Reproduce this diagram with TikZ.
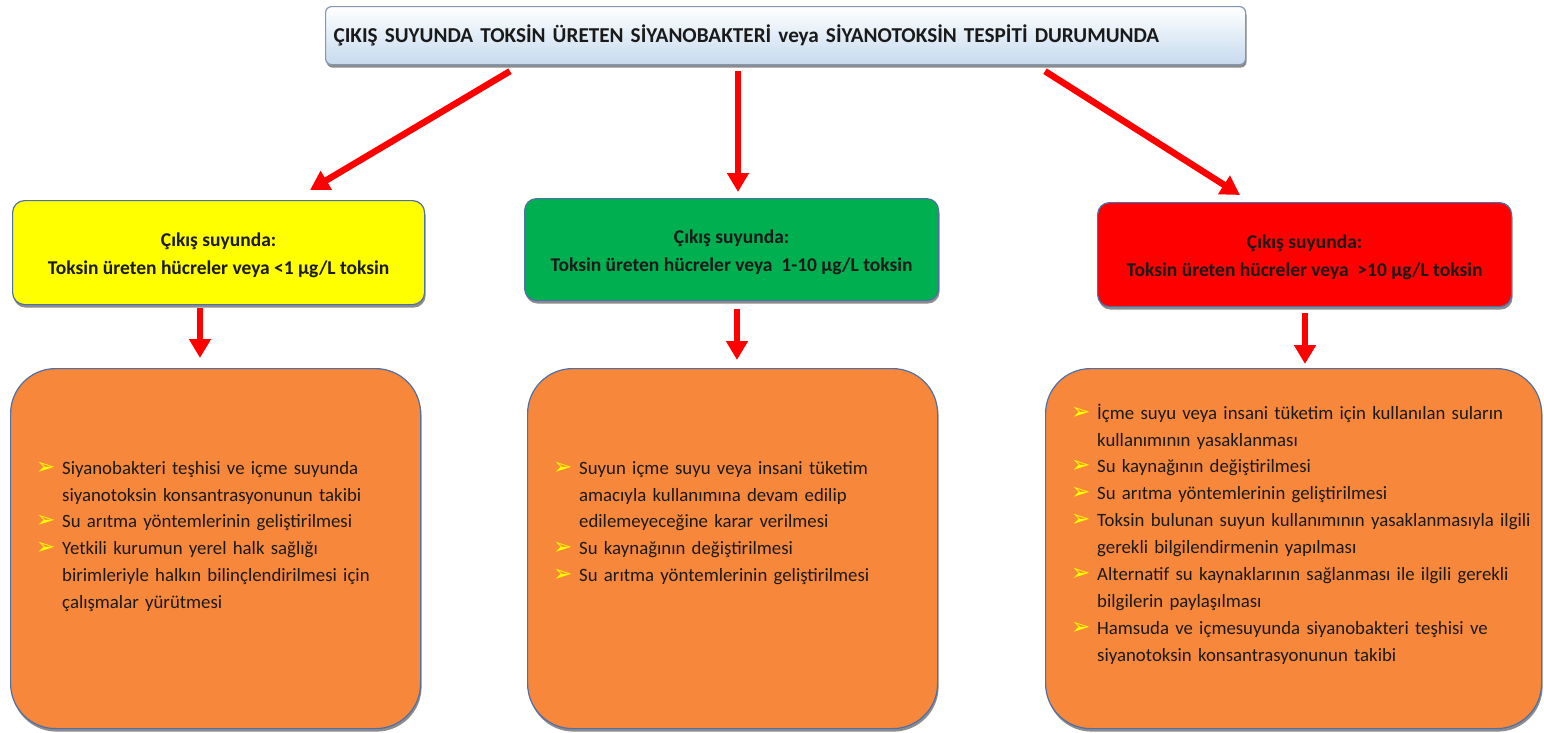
\documentclass[tikz,border=0pt]{standalone}
\usepackage{fontspec}
\setmainfont{Carlito}
\newfontfamily\symfont{DejaVu Sans}
\usetikzlibrary{arrows.meta,calc,shadows}

\definecolor{edgeblue}{HTML}{4F6FA8}
\definecolor{headedge}{HTML}{8497B0}
\definecolor{headlow}{HTML}{C6DAEE}
\definecolor{boxyellow}{HTML}{FFFF00}
\definecolor{boxgreen}{HTML}{00B050}
\definecolor{boxred}{HTML}{FF0000}
\definecolor{boxorange}{HTML}{F7883B}
\definecolor{arrowred}{HTML}{FF0000}
\definecolor{bulletyellow}{HTML}{FFFF00}
\definecolor{inktext}{HTML}{1A1A1A}

\newlength\bulw
\setlength\bulw{26pt}
\newcommand\arrowbullet{{\symfont\color{bulletyellow}\fontsize{23}{23}\selectfont ➢}}
\newcommand\bitem{\par\hangindent=\bulw\hangafter=1\noindent\makebox[\bulw][l]{\arrowbullet}}
\newcommand\lifttop{\rule{0pt}{20pt}}

\tikzset{
  boxshadow/.style={drop shadow={shadow xshift=1pt, shadow yshift=-3pt, opacity=0.45, fill=black}},
  headbox/.style={draw=headedge, line width=1.2pt, rounded corners=6pt,
    top color=white, bottom color=headlow, boxshadow,
    minimum width=920pt, minimum height=58pt, anchor=north west,
    text width=904pt, align=left, inner xsep=8pt,
    font=\bfseries\fontsize{21.2}{24}\selectfont, text=inktext},
  levelbox/.style={draw=edgeblue, line width=1.2pt, rounded corners=12pt,
    boxshadow, anchor=north west, align=center, text=inktext,
    font=\bfseries\fontsize{19.5}{28}\selectfont},
  actionbox/.style={draw=edgeblue, line width=1.2pt, rounded corners=45pt,
    fill=boxorange, boxshadow, anchor=north west, minimum height=360pt},
  listtext/.style={anchor=north west, inner sep=0pt, text width=490pt, text=inktext,
    font=\fontsize{18.8}{26.9}\selectfont\raggedright},
  flowarrow/.style={draw=arrowred, line width=6.5pt,
    -{Triangle[length=19pt,width=21pt]}}
}

\begin{document}
\begin{tikzpicture}[x=1pt,y=-1pt]
\useasboundingbox (0,0) rectangle (1544,732);

% heading
\node[headbox] (top) at (325,6)
  {ÇIKIŞ SUYUNDA TOKSİN ÜRETEN SİYANOBAKTERİ veya SİYANOTOKSİN TESPİTİ DURUMUNDA};

% concentration levels
\node[levelbox, fill=boxyellow, minimum width=412pt, minimum height=104pt] (yl) at (12,200)
  {\lifttop Çıkış suyunda:\\Toksin üreten hücreler veya <1 µg/L toksin};
\node[levelbox, fill=boxgreen, minimum width=414pt, minimum height=102pt] (gn) at (524,198)
  {\lifttop Çıkış suyunda:\\Toksin üreten hücreler veya\ \ 1-10 µg/L toksin};
\node[levelbox, fill=boxred, minimum width=414pt, minimum height=104pt] (rd) at (1097,202)
  {\lifttop Çıkış suyunda:\\Toksin üreten hücreler veya\ \ >10 µg/L toksin};

% actions
\node[actionbox, minimum width=410pt] (lo) at (10,368) {};
\node[actionbox, minimum width=410pt] (mo) at (527,368) {};
\node[actionbox, minimum width=496pt] (ro) at (1045,368) {};

\node[listtext] (lt) at ($(lo.north west)+(26,79)$) {%
  \bitem Siyanobakteri teşhisi ve içme suyunda\newline siyanotoksin konsantrasyonunun takibi
  \bitem Su arıtma yöntemlerinin geliştirilmesi
  \bitem Yetkili kurumun yerel halk sağlığı\newline birimleriyle halkın bilinçlendirilmesi için\newline çalışmalar yürütmesi\par};

\node[listtext] (mt) at ($(mo.north west)+(26,79)$) {%
  \bitem Suyun içme suyu veya insani tüketim\newline amacıyla kullanımına devam edilip\newline edilemeyeceğine karar verilmesi
  \bitem Su kaynağının değiştirilmesi
  \bitem Su arıtma yöntemlerinin geliştirilmesi\par};

\node[listtext] (rt) at ($(ro.north west)+(26,24)$) {%
  \bitem İçme suyu veya insani tüketim için kullanılan suların\newline kullanımının yasaklanması
  \bitem Su kaynağının değiştirilmesi
  \bitem Su arıtma yöntemlerinin geliştirilmesi
  \bitem Toksin bulunan suyun kullanımının yasaklanmasıyla ilgili\newline gerekli bilgilendirmenin yapılması
  \bitem Alternatif su kaynaklarının sağlanması ile ilgili gerekli\newline bilgilerin paylaşılması
  \bitem Hamsuda ve içmesuyunda siyanobakteri teşhisi ve\newline siyanotoksin konsantrasyonunun takibi\par};

% arrows from the heading
\draw[flowarrow] ($(top.south west)+(185,6)$) -- ($(yl.north west)+(298,-10)$);
\draw[flowarrow] ($(top.south west)+(413,6)$) -- ($(gn.north west)+(214,-6)$);
\draw[flowarrow] ($(top.south west)+(720,6)$) -- ($(rd.north west)+(143,-7)$);

% arrows to the actions
\draw[flowarrow] ($(yl.south west)+(188,3)$) -- ($(lo.north west)+(190,-10)$);
\draw[flowarrow] ($(gn.south west)+(213,8)$) -- ($(mo.north west)+(210,-8)$);
\draw[flowarrow] ($(rd.south west)+(208,6)$) -- ($(ro.north west)+(260,-4)$);
\end{tikzpicture}
\end{document}
